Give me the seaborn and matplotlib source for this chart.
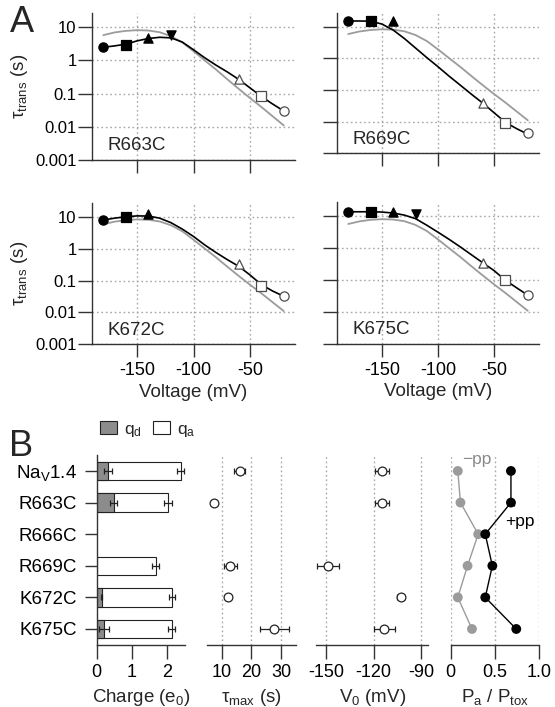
import numpy as np
import matplotlib
matplotlib.use('Agg')
import matplotlib.pyplot as plt
from matplotlib.patches import Patch
from matplotlib.ticker import NullLocator
import seaborn as sns

nan = np.nan

# ---- Panel A: voltage dependence of tau_trans ----
volt_grid = [-180, -170, -160, -150, -140, -130, -120, -110, -100,
             -90, -80, -70, -60, -50, -40, -30, -20]
marker_volts = [-180, -160, -140, -120, -60, -40, -20]

# grey reference fit (Na_V1.4), repeated in every panel
tau_wt_fit = [5.8, 7.0, 7.8, 8.2, 8.0, 7.1, 5.4, 3.5, 1.9,
              1.0, 0.53, 0.27, 0.14, 0.074, 0.04, 0.021, 0.011]

tau_r663c_fit = [2.5, 2.75, 3.1, 3.9, 4.6, 5.0, 4.8, 3.6, 2.1,
                 1.2, 0.72, 0.45, 0.27, 0.15, 0.083, 0.049, 0.03]
tau_r663c = [2.5, 2.95, 4.9, 5.9, 0.27, 0.083, 0.03]

tau_r669c_fit = [15.0, 15.0, 14.8, 12.0, 7.8, 4.2, 2.1, 1.05, 0.54,
                 0.27, 0.14, 0.072, 0.038, 0.019, 0.0095, 0.006, 0.004]
tau_r669c = [15.0, 15.0, 14.5, nan, 0.038, 0.009, 0.0045]

tau_k672c_fit = [7.9, 9.0, 10.0, 10.6, 10.5, 9.0, 6.5, 4.1, 2.4,
                 1.3, 0.75, 0.45, 0.28, 0.15, 0.075, 0.047, 0.032]
tau_k672c = [7.9, 10.0, 12.4, nan, 0.33, 0.069, 0.032]

tau_k675c_fit = [14.0, 14.0, 14.0, 13.7, 12.8, 11.0, 8.5, 5.3, 3.2,
                 1.9, 1.1, 0.62, 0.35, 0.2, 0.1, 0.058, 0.034]
tau_k675c = [14.0, 14.0, 13.4, 11.8, 0.35, 0.10, 0.034]

marker_shapes = ['o', 's', '^', 'v', '^', 's', 'o']
marker_filled = [True, True, True, True, False, False, False]

tau_ticks = [0.001, 0.01, 0.1, 1, 10]
tau_ticklabels = ['0.001', '0.01', '0.1', '1', '10']
volt_ticks = [-150, -100, -50]

# ---- Panel B: per-construct summary ----
constructs = ['Na$_\\mathrm{V}$1.4', 'R663C', 'R666C', 'R669C', 'K672C', 'K675C']
q_d = [0.33, 0.48, nan, nan, 0.14, 0.21]
q_d_err = [0.11, 0.10, nan, nan, 0.02, 0.14]
q_a_end = [2.38, 2.02, nan, 1.67, 2.14, 2.12]
q_a_err = [0.10, 0.11, nan, 0.10, 0.08, 0.10]

tau_max = [16.1, 7.5, nan, 13.0, 12.2, 27.7]
tau_max_err = [1.9, 0.3, nan, 2.3, 0.3, 4.9]

v0 = [-114.7, -114.7, nan, -148.5, -102.7, -113.2]
v0_err = [4.2, 4.5, nan, 6.9, 2.2, 6.6]

pa_minus = [0.08, 0.11, 0.31, 0.19, 0.08, 0.24]
pa_minus_err = [0.02, 0.02, 0.03, 0.02, 0.02, 0.02]
pa_plus = [0.68, 0.68, 0.39, 0.47, 0.39, 0.74]
pa_plus_err = [0.02, 0.03, 0.03, 0.02, 0.03, 0.02]
pa_ticks = [0, 0.5, 1.0]
pa_ticklabels = ['0', '0.5', '1.0']

sns.set_theme(style='ticks')
plt.rcParams.update({
    'font.family': ['Liberation Sans', 'DejaVu Sans'],
    'mathtext.fontset': 'custom',
    'mathtext.rm': 'Liberation Sans',
    'mathtext.it': 'Liberation Sans:italic',
    'axes.unicode_minus': False,
    'axes.linewidth': 1.0,
    'axes.edgecolor': '#333333',
    'xtick.color': '#333333',
    'ytick.color': '#333333',
    'xtick.labelcolor': 'black',
    'ytick.labelcolor': 'black',
    'xtick.major.width': 1.0,
    'ytick.major.width': 1.0,
    'xtick.major.size': 9,
    'ytick.major.size': 9,
    'font.size': 13,
})

GREY = '#9b9b9b'
GRID_COLOR = '#a8a8a8'


def dotted_grid(ax, axis='both'):
    # Igor-style dotted grid lines
    if axis in ('both', 'x'):
        for line in ax.get_xgridlines():
            line.set_visible(True)
    ax.grid(True, axis=axis, color=GRID_COLOR, linestyle=(0, (1.2, 2.0)),
            linewidth=1.0, zorder=0)
    ax.set_axisbelow(True)


fig = plt.figure(figsize=(5.55, 7.07), dpi=100)

a_panels = [
    ('R663C', tau_r663c_fit, tau_r663c, [0.1658, 0.7737, 0.3658, 0.2083], True, False),
    ('R669C', tau_r669c_fit, tau_r669c, [0.6072, 0.7832, 0.3640, 0.1989], False, False),
    ('K672C', tau_k672c_fit, tau_k672c, [0.1658, 0.5130, 0.3658, 0.2003], True, True),
    ('K675C', tau_k675c_fit, tau_k675c, [0.6072, 0.5134, 0.3640, 0.2003], False, True),
]

for name, fit, pts, rect, first_col, last_row in a_panels:
    ax = fig.add_axes(rect)
    ax.set_yscale('log')
    sns.lineplot(x=volt_grid, y=tau_wt_fit, color=GREY, linewidth=1.3,
                 estimator=None, sort=False, ax=ax)
    sns.lineplot(x=volt_grid, y=fit, color='black', linewidth=1.2,
                 estimator=None, sort=False, ax=ax)
    for v, t, m, filled in zip(marker_volts, pts, marker_shapes, marker_filled):
        if np.isnan(t):
            continue
        sns.scatterplot(x=[v], y=[t], marker=m, s=44,
                        color='black' if filled else 'white',
                        edgecolor='black' if filled else '#4d4d4d',
                        linewidth=0.9, zorder=3, clip_on=False, ax=ax)
    ax.set_xlim(-190, -10)
    ax.set_ylim(0.001, 27.5)
    ax.set_xticks(volt_ticks)
    ax.set_yticks(tau_ticks)
    ax.yaxis.set_minor_locator(NullLocator())
    dotted_grid(ax)
    ax.tick_params(axis='y', length=10, pad=1, labelsize=12)
    ax.tick_params(axis='x', length=9, pad=4, labelsize=13)
    if first_col:
        ax.set_yticklabels(tau_ticklabels)
        ax.set_ylabel('τ$_\\mathrm{trans}$ (s)', fontsize=13.5, labelpad=4)
    else:
        ax.set_yticklabels([])
    if last_row:
        ax.set_xlabel('Voltage (mV)', fontsize=13.5, labelpad=3)
    else:
        ax.set_xticklabels([])
    ax.text(0.078, 0.10, name, transform=ax.transAxes, ha='left', va='center',
            fontsize=13.5)
    sns.despine(ax=ax)

# ---- Panel B ----
ypos = np.arange(len(constructs))
b_bottom, b_height = 0.088, 0.2682
err_kw = dict(fmt='none', elinewidth=0.9, capsize=2.5, capthick=0.9, zorder=4)

ax_q = fig.add_axes([0.1742, b_bottom, 0.1591, b_height])
sns.barplot(x=q_a_end, y=constructs, order=constructs, orient='h', color='white',
            edgecolor='#222222', linewidth=0.8, width=0.58, saturation=1,
            errorbar=None, ax=ax_q)
sns.barplot(x=q_d, y=constructs, order=constructs, orient='h', color='#8c8c8c',
            edgecolor='#222222', linewidth=0.8, width=0.58, saturation=1,
            errorbar=None, ax=ax_q)
ax_q.errorbar(q_a_end, ypos, xerr=q_a_err, ecolor='#222222', **err_kw)
ax_q.errorbar(q_d, ypos, xerr=q_d_err, ecolor='#222222', **err_kw)
ax_q.set_xlim(0, 2.5)
ax_q.set_ylim(5.5, -0.5)
ax_q.set_xticks([0, 1, 2])
ax_q.set_xlabel('Charge (e$_0$)', fontsize=13.5)
ax_q.set_ylabel('')
ax_q.tick_params(axis='y', length=9, pad=5, labelsize=13.5)
ax_q.tick_params(axis='x', length=10, pad=4, labelsize=13)
sns.despine(ax=ax_q)

ax_t = fig.add_axes([0.3724, b_bottom, 0.1609, b_height])
ax_t.errorbar(tau_max, ypos, xerr=tau_max_err, ecolor='#222222', **err_kw)
sns.scatterplot(x=tau_max, y=ypos, marker='o', s=40, color='white',
                edgecolor='#222222', linewidth=0.9, zorder=5, ax=ax_t)
ax_t.set_xlim(5, 35)
ax_t.set_xticks([10, 20, 30])
ax_t.set_xlabel('τ$_\\mathrm{max}$ (s)', fontsize=13.5)

ax_v = fig.add_axes([0.5694, b_bottom, 0.2023, b_height])
ax_v.errorbar(v0, ypos, xerr=v0_err, ecolor='#222222', **err_kw)
sns.scatterplot(x=v0, y=ypos, marker='o', s=40, color='white',
                edgecolor='#222222', linewidth=0.9, zorder=5, ax=ax_v)
ax_v.set_xlim(-156.3, -85.4)
ax_v.set_xticks([-150, -120, -90])
ax_v.set_xlabel('V$_0$ (mV)', fontsize=13.5)

ax_p = fig.add_axes([0.8121, b_bottom, 0.1596, b_height])
sns.lineplot(x=pa_minus, y=ypos, color=GREY, linewidth=1.0, estimator=None,
             sort=False, ax=ax_p)
sns.lineplot(x=pa_plus, y=ypos, color='black', linewidth=1.0, estimator=None,
             sort=False, ax=ax_p)
ax_p.errorbar(pa_minus, ypos, xerr=pa_minus_err, ecolor=GREY, **err_kw)
ax_p.errorbar(pa_plus, ypos, xerr=pa_plus_err, ecolor='black', **err_kw)
sns.scatterplot(x=pa_minus, y=ypos, marker='o', s=50, color=GREY,
                edgecolor='none', zorder=5, ax=ax_p)
sns.scatterplot(x=pa_plus, y=ypos, marker='o', s=50, color='black',
                edgecolor='none', zorder=5, ax=ax_p)
ax_p.set_xlim(0, 1.0)
ax_p.set_xticks(pa_ticks)
ax_p.set_xticklabels(pa_ticklabels)
ax_p.set_xlabel('P$_\\mathrm{a}$ / P$_\\mathrm{tox}$', fontsize=13.5)
ax_p.text(0.29, -0.36, '−pp', color='#8a8a8a', ha='center', va='center', fontsize=12.5)
ax_p.text(0.78, 1.61, '+pp', color='black', ha='center', va='center', fontsize=12.5)

for ax in (ax_t, ax_v, ax_p):
    ax.set_ylim(5.5, -0.5)
    ax.set_yticks([])
    ax.set_ylabel('')
    dotted_grid(ax, axis='x')
    ax.tick_params(axis='x', length=10, pad=4, labelsize=13)
    sns.despine(ax=ax, left=True)

fig.legend(handles=[Patch(facecolor='#8c8c8c', edgecolor='#222222', linewidth=0.8),
                    Patch(facecolor='white', edgecolor='#222222', linewidth=0.8)],
           labels=['q$_\\mathrm{d}$', 'q$_\\mathrm{a}$'], ncol=2, frameon=False,
           loc='center left', bbox_to_anchor=(100 / 555, 1 - 430 / 707),
           handlelength=1.0, handleheight=0.7, handletextpad=0.4,
           columnspacing=0.6, borderpad=0, borderaxespad=0, fontsize=12.5)

fig.text(22 / 555, 1 - 22 / 707, 'A', fontsize=26, ha='center', va='center')
fig.text(21 / 555, 1 - 446 / 707, 'B', fontsize=26, ha='center', va='center')

fig.savefig('out.png', dpi=100)
